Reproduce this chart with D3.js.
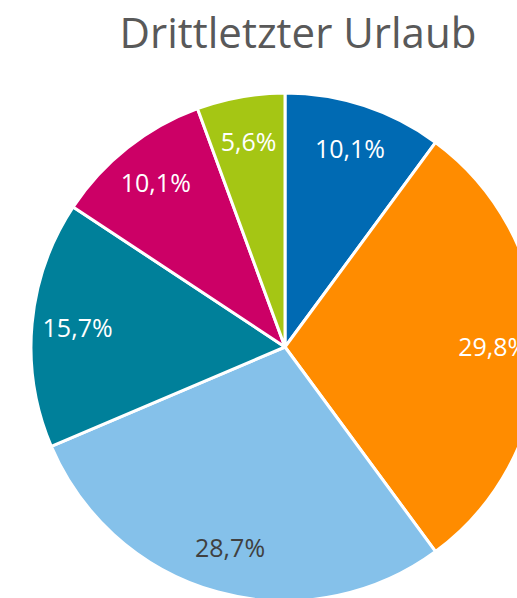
<!DOCTYPE html>
<html>
<head>
<meta charset="utf-8">
<script src="https://cdn.jsdelivr.net/npm/d3@7"></script>
<style>
  body { margin: 0; background: #fff; }
  svg { display: block; font-family: "Open Sans", "Noto Sans", sans-serif; }
</style>
</head>
<body>
<script>
// chart data
var categories = ["A", "B", "C", "D", "E", "F"];
var values = [10.1, 29.8, 28.7, 15.7, 10.1, 5.6];
var labels = ["10,1%", "29,8%", "28,7%", "15,7%", "10,1%", "5,6%"];
var colors = ["#006ab3", "#ff8c00", "#85c1ea", "#00809a", "#cc0066", "#a5c614"];
var labelColors = ["#fff", "#fff", "#404040", "#fff", "#fff", "#fff"];

var width = 517,
    height = 598;

var svg = d3.select("body")
    .append("svg")
    .attr("width", width)
    .attr("height", height);

//title
svg.append("text")
    .attr("x", 298)
    .attr("y", 48)
    .attr("text-anchor", "middle")
    .attr("font-size", 42)
    .attr("fill", "#595959")
    .text("Drittletzter Urlaub");

var cx = 285, cy = 347, r = 254;

var pie = d3.pie()
    .sort(null)
    .value(function(d){ return d; });

var arc = d3.arc()
    .innerRadius(0)
    .outerRadius(r);

var labelArc = d3.arc()
    .innerRadius(r * 0.82)
    .outerRadius(r * 0.82);

var g = svg.append("g")
    .attr("transform", "translate(" + cx + "," + cy + ")");

var slices = g.selectAll(".slice")
    .data(pie(values))
    .enter()
    .append("g")
    .attr("class", "slice");

slices.append("path")
    .attr("d", arc)
    .attr("fill", function(d, i){ return colors[i]; })
    .attr("stroke", "#fff")
    .attr("stroke-width", 3)
    .attr("stroke-linejoin", "round");

slices.append("text")
    .attr("transform", function(d){ return "translate(" + labelArc.centroid(d) + ")"; })
    .attr("text-anchor", "middle")
    .attr("dy", "0.35em")
    .attr("font-size", 25)
    .attr("fill", function(d, i){ return labelColors[i]; })
    .text(function(d, i){ return labels[i]; });
</script>
</body>
</html>
